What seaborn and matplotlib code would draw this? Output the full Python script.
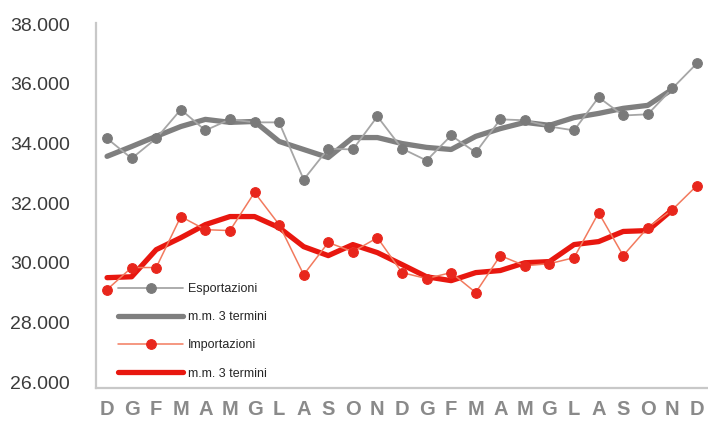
import numpy as np
import pandas as pd
import seaborn as sns
import matplotlib.pyplot as plt
from matplotlib.ticker import FuncFormatter

# months (Dec -> Dec, two years)
months = list("DGFMAMGLASONDGFMAMGLASOND")

esportazioni = [34170, 33500, 34170, 35140, 34440, 34810, 34710, 34710, 32790, 33830,
                33800, 34910, 33830, 33430, 34270, 33700, 34810, 34780, 34570, 34440,
                35550, 34940, 34980, 35850, 36690]
esport_mm3 = [33570, 33900, 34240, 34570, 34810, 34710, 34740, 34070, 33800, 33530,
              34200, 34200, 34000, 33870, 33800, 34240, 34500, 34710, 34610, 34870,
              35010, 35180, 35280, 35820, np.nan]

importazioni = [29100, 29840, 29840, 31550, 31110, 31080, 32360, 31280, 29600, 30680,
                30370, 30840, 29670, 29470, 29670, 29000, 30240, 29900, 29970, 30170,
                31680, 30240, 31180, 31780, 32590]
import_mm3 = [29500, 29530, 30440, 30840, 31280, 31550, 31550, 31180, 30540, 30240,
              30610, 30340, 29940, 29530, 29400, 29670, 29740, 30000, 30040, 30610,
              30710, 31050, 31080, 31780, np.nan]

df = pd.DataFrame({
    "pos": range(len(months)),
    "esp": esportazioni,
    "esp_mm": esport_mm3,
    "imp": importazioni,
    "imp_mm": import_mm3,
})

sns.set_style("white")
plt.rcParams["font.family"] = ["Liberation Sans Narrow", "Liberation Sans", "DejaVu Sans"]

fig = plt.figure(figsize=(7.08, 4.33), dpi=100)
ax = fig.add_axes([0.1356, 0.104, 0.8644, 0.842])

sns.lineplot(data=df, x="pos", y="esp", ax=ax, color="#a6a6a6", linewidth=1.3,
             marker="o", markersize=7, markerfacecolor="#7a7a7a", markeredgecolor="#7a7a7a",
             label="Esportazioni", zorder=4)
sns.lineplot(data=df, x="pos", y="esp_mm", ax=ax, color="#7f7f7f", linewidth=3.8,
             label="m.m. 3 termini", zorder=3)
sns.lineplot(data=df, x="pos", y="imp", ax=ax, color="#f27a5e", linewidth=1.1,
             marker="o", markersize=7, markerfacecolor="#e8261c", markeredgecolor="#e8261c",
             label="Importazioni", zorder=4)
sns.lineplot(data=df, x="pos", y="imp_mm", ax=ax, color="#e8170f", linewidth=3.8,
             label="m.m. 3 termini", zorder=3)

ax.set_xlim(-0.45, 24.45)
ax.set_ylim(25800, 38030)
ax.set_yticks(range(26000, 38001, 2000))
ax.yaxis.set_major_formatter(FuncFormatter(lambda v, p: f"{int(v):,}".replace(",", ".")))
ax.set_xticks(df["pos"])
ax.set_xticklabels(months)
ax.set_xlabel("")
ax.set_ylabel("")

ax.tick_params(axis="y", length=0, pad=19, labelsize=14, labelcolor="#3c3c3c")
ax.tick_params(axis="x", length=0, pad=9, labelsize=14.5, labelcolor="#8a8a8a")
for t in ax.get_xticklabels():
    t.set_fontweight("bold")

sns.despine(ax=ax, top=True, right=True)
for s in ["left", "bottom"]:
    ax.spines[s].set_color("#c8c8c8")
    ax.spines[s].set_linewidth(1.6)

ax.legend(loc="upper left", bbox_to_anchor=(0.036, 0.288), frameon=False,
          fontsize=9, handlelength=5.2, handletextpad=0.4, labelspacing=1.3,
          borderpad=0, borderaxespad=0)

fig.savefig("out.png", dpi=100)
